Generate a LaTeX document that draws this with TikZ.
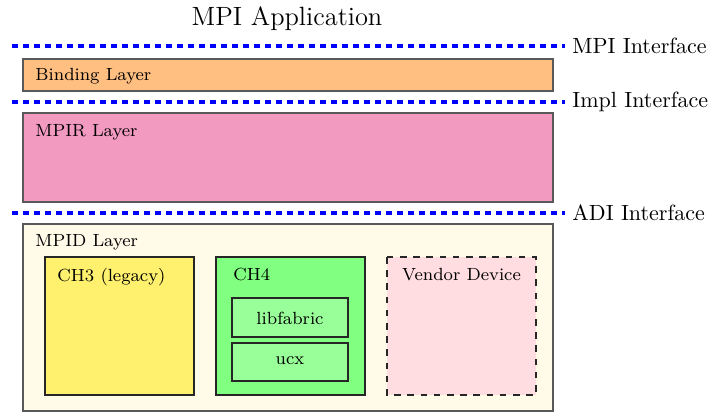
\documentclass[tikz,border=0pt]{standalone}
\begin{document}
\begin{tikzpicture}[x=0.4545pt,y=-0.4545pt,
  layerbox/.style={draw=black!65,line width=0.6pt,inner sep=0pt},
  innerbox/.style={draw=black!85,line width=0.5pt,inner sep=0pt},
  iface/.style={draw=blue,line width=1.8pt,dash pattern=on 2.9pt off 2.1pt},
  ifacelabel/.style={anchor=west,inner sep=0pt,font=\normalsize},
  boxlabel/.style={inner sep=0pt,font=\footnotesize}]
\definecolor{cOrange}{RGB}{255,191,128}
\definecolor{cPink}{RGB}{243,154,193}
\definecolor{cCream}{RGB}{255,251,232}
\definecolor{cYellow}{RGB}{255,241,110}
\definecolor{cGreen}{RGB}{128,255,128}
\definecolor{cLightGreen}{RGB}{153,255,153}
\definecolor{cRose}{RGB}{255,221,224}
\useasboundingbox (0,0) rectangle (713,412);

\node[inner sep=0pt,font=\large] (title) at (287,19) {MPI Application};

% interfaces
\coordinate (m1) at (12,46); \coordinate (m2) at (565,46);
\draw[iface] (m1) -- (m2);
\node[ifacelabel] (mpiif) at (572,46) {MPI Interface};
\coordinate (i1) at (12,102); \coordinate (i2) at (565,102);
\draw[iface] (i1) -- (i2);
\node[ifacelabel] (implif) at (572,102) {Impl Interface};
\coordinate (a1) at (12,213); \coordinate (a2) at (565,213);
\draw[iface] (a1) -- (a2);
\node[ifacelabel] (adiif) at (572,213) {ADI Interface};

% layers
\draw[layerbox,fill=cOrange] (23,59) rectangle (553,91);
\node[boxlabel,anchor=west] (binding) at (35,76) {Binding Layer};
\draw[layerbox,fill=cPink] (23,113) rectangle (553,202);
\node[boxlabel,anchor=west] (mpir) at (35,132) {MPIR Layer};
\draw[layerbox,fill=cCream] (23,224) rectangle (553,411);
\node[boxlabel,anchor=west] (mpid) at (35,242) {MPID Layer};

% devices
\draw[innerbox,fill=cYellow] (45,257) rectangle (194,395);
\node[boxlabel,anchor=west] (ch3) at (57,277) {CH3 (legacy)};
\draw[innerbox,fill=cGreen] (216,257) rectangle (365,395);
\node[boxlabel,anchor=west] (ch4) at (233,274) {CH4};
\draw[innerbox,fill=cLightGreen] (232,298) rectangle (348,337);
\node[boxlabel] (libfabric) at (290,318) {libfabric};
\draw[innerbox,fill=cLightGreen] (232,343) rectangle (348,381);
\node[boxlabel] (ucx) at (290,361) {ucx};
\draw[innerbox,fill=cRose,dashed] (387,257) rectangle (536,395);
\node[boxlabel] (vendor) at (461.5,275) {Vendor Device};
\end{tikzpicture}
\end{document}
